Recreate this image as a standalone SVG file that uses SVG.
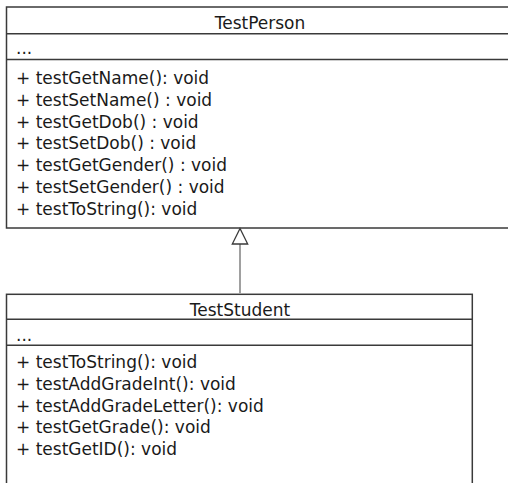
<svg xmlns="http://www.w3.org/2000/svg" width="508" height="483" viewBox="0 0 508 483">
<style>
.box{fill:#fff;stroke:#3a3a3a;stroke-width:1.5}
.sep{stroke:#3a3a3a;stroke-width:1.5}
.t{font-family:"DejaVu Sans",sans-serif;font-size:17px;fill:#1a1a1a}
.c{text-anchor:middle}
.conn{stroke:#a0a0a0;stroke-width:2;fill:none}
.head{fill:#fff;stroke:#3a3a3a;stroke-width:1.3}
</style>
<rect width="508" height="483" fill="#fff"/>
<g id="TestPerson">
<rect class="box" x="6.5" y="7" width="520" height="221"/>
<line class="sep" x1="6.5" y1="33.7" x2="527" y2="33.7"/>
<line class="sep" x1="6.5" y1="59.5" x2="527" y2="59.5"/>
<text class="t c" x="260" y="28.5">TestPerson</text>
<text class="t" x="16" y="54">...</text>
<text class="t" x="16" y="84">+ testGetName(): void</text>
<text class="t" x="16" y="105.7">+ testSetName() : void</text>
<text class="t" x="16" y="127.5">+ testGetDob() : void</text>
<text class="t" x="16" y="149.2">+ testSetDob() : void</text>
<text class="t" x="16" y="171">+ testGetGender() : void</text>
<text class="t" x="16" y="192.7">+ testSetGender() : void</text>
<text class="t" x="16" y="214.5">+ testToString(): void</text>
</g>
<g id="TestStudent">
<rect class="box" x="6.5" y="294.3" width="465.8" height="200"/>
<line class="sep" x1="6.5" y1="319.3" x2="472.3" y2="319.3"/>
<line class="sep" x1="6.5" y1="345.3" x2="472.3" y2="345.3"/>
<text class="t c" x="240" y="315.5">TestStudent</text>
<text class="t" x="16" y="341">...</text>
<text class="t" x="16" y="368">+ testToString(): void</text>
<text class="t" x="16" y="389.7">+ testAddGradeInt(): void</text>
<text class="t" x="16" y="411.5">+ testAddGradeLetter(): void</text>
<text class="t" x="16" y="433.2">+ testGetGrade(): void</text>
<text class="t" x="16" y="455">+ testGetID(): void</text>
</g>
<g id="connectors">
<line class="conn" x1="240" y1="244" x2="240" y2="294"/>
<polygon class="head" points="240,228.5 232.3,244 247.7,244"/>
</g>
</svg>
